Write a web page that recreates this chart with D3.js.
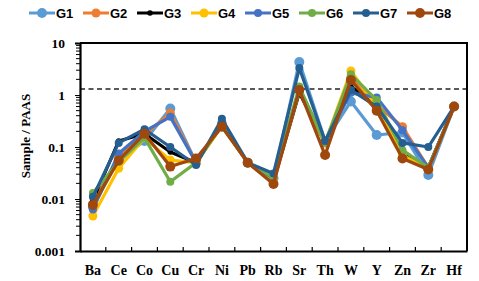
<!DOCTYPE html>
<html><head><meta charset="utf-8">
<script src="https://cdn.jsdelivr.net/npm/d3@7"></script>
<style>body{margin:0;background:#fff}svg{display:block}</style>
</head><body>
<svg id="c" width="479" height="281"></svg>
<script>
const categories = ["Ba","Ce","Co","Cu","Cr","Ni","Pb","Rb","Sr","Th","W","Y","Zn","Zr","Hf"];
const seriesNames = ["G1","G2","G3","G4","G5","G6","G7","G8"];
const G1 = [0.007,0.06,0.13,0.55,0.05,0.28,0.05,0.025,4.3,0.13,0.75,0.17,0.19,0.029,0.6];
const G2 = [0.008,0.065,0.17,0.45,0.05,0.27,0.05,0.023,1.3,0.12,2.2,0.65,0.245,0.04,0.6];
const G3 = [0.0095,0.13,0.18,0.08,0.05,0.26,0.05,0.022,1.1,0.12,1.45,0.6,0.08,0.04,0.6];
const G4 = [0.0047,0.039,0.15,0.056,0.05,0.25,0.05,0.022,1.2,0.12,2.9,0.6,0.07,0.038,0.6];
const G5 = [0.0063,0.075,0.2,0.38,0.05,0.3,0.05,0.025,1.3,0.13,1.1,0.9,0.21,0.04,0.6];
const G6 = [0.013,0.052,0.15,0.0215,0.05,0.26,0.05,0.026,1.45,0.12,2.5,0.8,0.087,0.04,0.6];
const G7 = [0.011,0.12,0.22,0.10,0.045,0.35,0.05,0.031,3.3,0.13,1.25,0.6,0.12,0.1,0.6];
const G8 = [0.0077,0.055,0.18,0.042,0.06,0.245,0.05,0.0195,1.25,0.07,1.95,0.5,0.06,0.037,0.6];
const refLine = 1.3;
const yTicks = [0.001,0.01,0.1,1,10];
const yTickLabels = ["0.001","0.01","0.1","1","10"];
const seriesData = [G1,G2,G3,G4,G5,G6,G7,G8];
const colors = ["#5B9BD5","#ED7D31","#000000","#FFC000","#4472C4","#70AD47","#255E91","#9E480E"];
const radii = [5,4.5,2.8,4.5,4,4,4,5];

const svg = d3.select("#c");
const L=80, R=467, T=43, B=251;
const x = d3.scaleBand().domain(categories).range([L,R]);
const y = d3.scaleLog().domain([0.001,10]).range([B,T]);

// reference dashed line
svg.append("line").attr("x1",L).attr("x2",470).attr("y1",y(refLine)).attr("y2",y(refLine))
  .attr("stroke","#222").attr("stroke-width",1.4).attr("stroke-dasharray","5,3.5");

// series
const line = d3.line().x((d,i)=>x(categories[i])+x.bandwidth()/2).y(d=>y(d));
seriesData.forEach((s,k)=>{
  svg.append("path").attr("d",line(s)).attr("fill","none").attr("stroke",colors[k])
    .attr("stroke-width",3.2).attr("stroke-linejoin","round");
  svg.append("g").selectAll("circle").data(s).join("circle")
    .attr("cx",(d,i)=>x(categories[i])+x.bandwidth()/2).attr("cy",d=>y(d))
    .attr("r",radii[k]).attr("fill",colors[k]);
});

// frame
svg.append("path").attr("d",`M${L},${T}H${R}V${B}`).attr("fill","none").attr("stroke","#000").attr("stroke-width",2);

// left axis
const minor = [];
for (let e=-3;e<1;e++) for (let m=2;m<10;m++) minor.push(m*Math.pow(10,e));
const ya = svg.append("g").attr("transform",`translate(${L},0)`)
  .call(d3.axisLeft(y).tickValues(yTicks).tickFormat((d,i)=>yTickLabels[i]).tickSize(5).tickPadding(10));
ya.select(".domain").attr("stroke-width",2.2);
ya.selectAll("text").attr("font-family","Liberation Serif, Times New Roman, serif").attr("font-weight","bold").attr("font-size","13.5px").attr("fill","#000");
svg.append("g").selectAll("line").data(minor).join("line")
  .attr("x1",L-4).attr("x2",L).attr("y1",d=>y(d)).attr("y2",d=>y(d)).attr("stroke","#000").attr("stroke-width",1);

// bottom axis
const xa = svg.append("g").attr("transform",`translate(0,${B})`)
  .call(d3.axisBottom(x).tickSize(0).tickPadding(14));
xa.select(".domain").attr("stroke-width",2.2);
xa.selectAll("text").attr("font-family","Liberation Serif, Times New Roman, serif").attr("font-weight","bold").attr("font-size","14px").attr("fill","#000");
svg.append("g").selectAll("line").data(categories.slice(1)).join("line")
  .attr("x1",d=>x(d)).attr("x2",d=>x(d)).attr("y1",B).attr("y2",B-4).attr("stroke","#000").attr("stroke-width",1.2);

// y label
svg.append("text").attr("transform","translate(30,136) rotate(-90)").attr("text-anchor","middle")
  .attr("font-family","Liberation Serif, Times New Roman, serif").attr("font-weight","bold").attr("font-size","13px")
  .text("Sample / PAAS");

// legend
const lg = svg.append("g");
seriesNames.forEach((n,k)=>{
  const x0 = 29 + k*54;
  lg.append("line").attr("x1",x0).attr("x2",x0+26).attr("y1",13).attr("y2",13).attr("stroke",colors[k]).attr("stroke-width",3);
  lg.append("circle").attr("cx",x0+13).attr("cy",13).attr("r",radii[k]).attr("fill",colors[k]);
  lg.append("text").attr("x",x0+27).attr("y",17.5).attr("font-family","Liberation Sans, Arial, sans-serif")
    .attr("font-weight","bold").attr("font-size","13px").text(n);
});
</script>
</body></html>
